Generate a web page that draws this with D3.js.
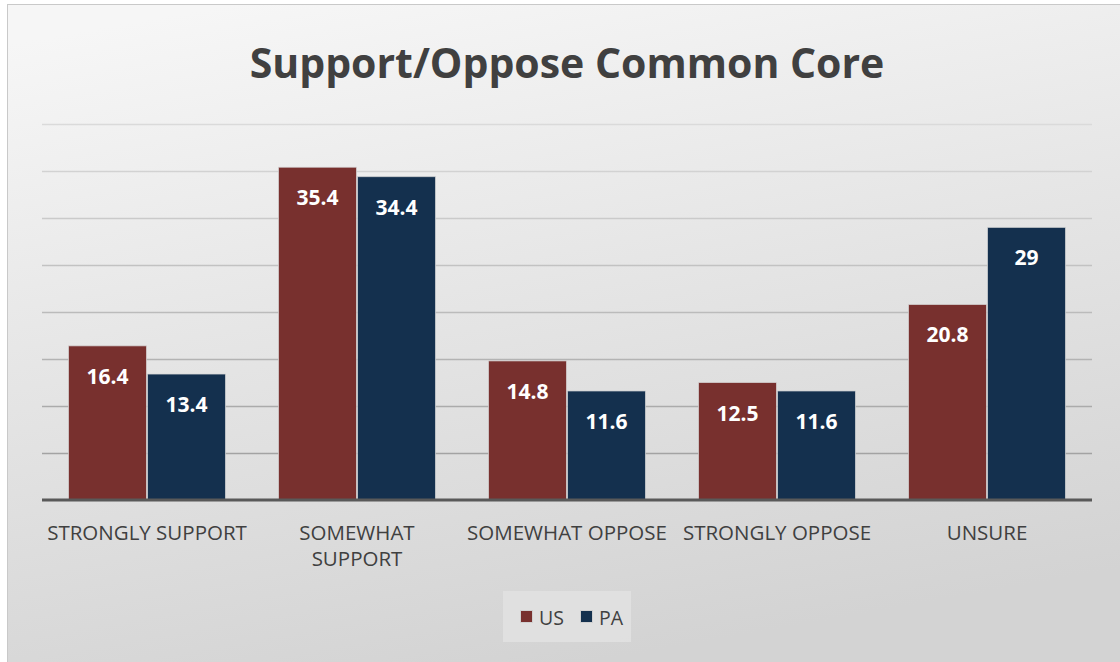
<!DOCTYPE html>
<html>
<head>
<meta charset="utf-8">
<script src="https://cdn.jsdelivr.net/npm/d3@7"></script>
<style>
  html, body { margin: 0; padding: 0; background: #ffffff; }
  svg { display: block; }
</style>
</head>
<body>
<svg id="chart" width="1120" height="662"></svg>
<script>
// Survey responses on Common Core, national vs Pennsylvania (percent)
const categories = ["STRONGLY SUPPORT", "SOMEWHAT SUPPORT", "SOMEWHAT OPPOSE", "STRONGLY OPPOSE", "UNSURE"];
const tickLines = [["STRONGLY SUPPORT"], ["SOMEWHAT", "SUPPORT"], ["SOMEWHAT OPPOSE"], ["STRONGLY OPPOSE"], ["UNSURE"]];
const seriesNames = ["US", "PA"];
const usValues = [16.4, 35.4, 14.8, 12.5, 20.8];
const paValues = [13.4, 34.4, 11.6, 11.6, 29];
const gridTicks = [0, 5, 10, 15, 20, 25, 30, 35, 40];
const chartTitle = "Support/Oppose Common Core";

const seriesColors = { US: "#78302e", PA: "#14304e" };
const seriesValues = { US: usValues, PA: paValues };

const W = 1120, H = 662;
const svg = d3.select("#chart");
const defs = svg.append("defs");

// Chart area background: soft light-to-gray gradient
const bg = defs.append("linearGradient").attr("id", "bgGrad")
  .attr("x1", "0.2").attr("y1", "0").attr("x2", "0.5").attr("y2", "1");
bg.append("stop").attr("offset", "0").attr("stop-color", "#f6f6f6");
bg.append("stop").attr("offset", "0.45").attr("stop-color", "#e6e6e6");
bg.append("stop").attr("offset", "1").attr("stop-color", "#d3d3d3");

svg.append("rect")
  .attr("x", 7.5).attr("y", 4.5).attr("width", W).attr("height", H)
  .attr("fill", "url(#bgGrad)")
  .attr("stroke", "#c9c9c9").attr("stroke-width", 1);

const plot = { left: 42, right: 1092, top: 124, bottom: 500 };

const x0 = d3.scaleBand().domain(categories)
  .range([plot.left, plot.right]).paddingInner(0.2476).paddingOuter(0.1238);
const x1 = d3.scaleBand().domain(seriesNames).range([0, x0.bandwidth()]);
const y = d3.scaleLinear().domain([0, 40]).range([plot.bottom, plot.top]);

// Horizontal gridlines, darker towards the baseline
const gridColor = d3.scaleLinear().domain([40, 5]).range(["#dadada", "#a3a3a3"]);
svg.append("g").selectAll("line")
  .data(gridTicks.filter(t => t > 0))
  .join("line")
  .attr("x1", plot.left).attr("x2", plot.right)
  .attr("y1", d => Math.round(y(d)) + 0.5).attr("y2", d => Math.round(y(d)) + 0.5)
  .attr("stroke", d => gridColor(d)).attr("stroke-width", 1.5);

// Bars
const groups = svg.append("g").selectAll("g")
  .data(categories)
  .join("g")
  .attr("transform", d => `translate(${x0(d)},0)`);

groups.selectAll("rect")
  .data((d, i) => seriesNames.map(s => ({ s, v: seriesValues[s][i] })))
  .join("rect")
  .attr("x", d => x1(d.s) + 0.5)
  .attr("y", d => y(d.v))
  .attr("width", x1.bandwidth() - 1)
  .attr("height", d => y(0) - y(d.v))
  .attr("fill", d => seriesColors[d.s])
  .attr("stroke", "#d8d8d8").attr("stroke-opacity", 0.7).attr("stroke-width", 1);

groups.selectAll("text")
  .data((d, i) => seriesNames.map(s => ({ s, v: seriesValues[s][i] })))
  .join("text")
  .attr("x", d => x1(d.s) + x1.bandwidth() / 2)
  .attr("y", d => y(d.v) + 38)
  .attr("text-anchor", "middle")
  .attr("font-family", "'Open Sans', sans-serif")
  .attr("font-weight", 700)
  .attr("font-size", 21)
  .attr("fill", "#ffffff")
  .text(d => d.v);

// Baseline axis
const xAxis = d3.axisBottom(x0).tickSize(0).tickFormat("");
const axisG = svg.append("g").attr("transform", `translate(0,${plot.bottom})`).call(xAxis);
axisG.select(".domain").attr("stroke", "#595959").attr("stroke-width", 3)
  .attr("d", `M${plot.left},0H${plot.right}`);

// Category labels
axisG.selectAll(".tick").each(function (d, i) {
  const t = d3.select(this).append("text")
    .attr("text-anchor", "middle")
    .attr("font-family", "'Open Sans', sans-serif")
    .attr("font-size", 20.5)
    .attr("fill", "#404040");
  tickLines[i].forEach((line, j) => {
    t.append("tspan").attr("x", 0).attr("y", 40 + j * 26).text(line);
  });
});

// Title
svg.append("text")
  .attr("x", 567).attr("y", 78)
  .attr("text-anchor", "middle")
  .attr("font-family", "'Open Sans', sans-serif")
  .attr("font-weight", 700)
  .attr("font-size", 41)
  .attr("fill", "#404040")
  .text(chartTitle);

// Legend
const legend = svg.append("g");
legend.append("rect")
  .attr("x", 503).attr("y", 591).attr("width", 128).attr("height", 51)
  .attr("fill", "#e2e2e2").attr("opacity", 0.8);
const legendX = { US: 520, PA: 580 };
seriesNames.forEach(s => {
  legend.append("rect")
    .attr("x", legendX[s] + 0.5).attr("y", 610.5).attr("width", 12).attr("height", 12)
    .attr("fill", seriesColors[s]).attr("stroke", "#d0d0d0").attr("stroke-width", 1);
  legend.append("text")
    .attr("x", legendX[s] + 19).attr("y", 625)
    .attr("font-family", "'Open Sans', sans-serif")
    .attr("font-size", 19.5)
    .attr("fill", "#404040")
    .text(s);
});
</script>
</body>
</html>
